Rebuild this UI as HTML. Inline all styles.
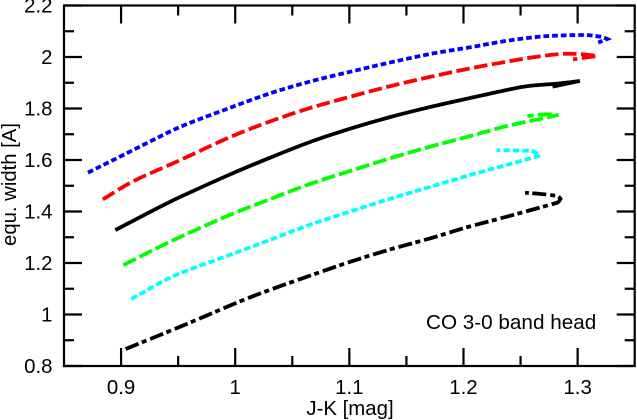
<!DOCTYPE html>
<html>
<head>
<meta charset="utf-8">
<title>CO 3-0 band head</title>
<style>
html,body{margin:0;padding:0;background:#fff;}
svg{display:block;}
text{font-family:"Liberation Sans",Arial,sans-serif;font-size:20.4px;fill:#000;}
</style>
</head>
<body>
<svg id="chart" width="637" height="420" viewBox="0 0 637 420" xmlns="http://www.w3.org/2000/svg">
<g id="series-layer"></g>
<g id="axis-layer"></g>
<text x="350" y="415" text-anchor="middle">J-K [mag]</text>
<text transform="translate(16,184.5) rotate(-90)" text-anchor="middle" style="font-size:20.3px">equ. width [A]</text>
<text x="426" y="329" style="font-size:20.7px">CO 3-0 band head</text>
</svg>
<script>
var xTickLabels = ['0.9', '1', '1.1', '1.2', '1.3'];
var yTickLabels = ['0.8', '1', '1.2', '1.4', '1.6', '1.8', '2', '2.2'];
var xMinorTicks = [0.95, 1.05, 1.15, 1.25];
var yMinorTicks = [0.9, 1.1, 1.3, 1.5, 1.7, 1.9, 2.1];

var blueJK = [0.871,0.899,0.925,0.952,0.995,1.030,1.065,1.101,1.136,1.171,1.206,1.238,1.267,1.288,1.308,1.320,1.326,1.318];
var blueEW = [1.551,1.613,1.671,1.729,1.802,1.858,1.904,1.943,1.979,2.012,2.038,2.063,2.079,2.084,2.085,2.079,2.070,2.056];
var redJK = [0.884,0.910,0.952,0.995,1.030,1.065,1.101,1.136,1.171,1.206,1.238,1.258,1.285,1.299,1.317,1.296];
var redEW = [1.447,1.516,1.600,1.688,1.749,1.801,1.846,1.887,1.923,1.956,1.982,1.997,2.012,2.012,2.004,1.991];
var blackJK = [0.895,0.931,0.952,0.995,1.030,1.065,1.101,1.136,1.171,1.206,1.238,1.256,1.278,1.302,1.278];
var blackEW = [1.328,1.411,1.457,1.543,1.608,1.669,1.722,1.767,1.806,1.841,1.872,1.887,1.895,1.907,1.885];
var greenJK = [0.902,0.945,0.995,1.030,1.065,1.101,1.136,1.171,1.206,1.238,1.267,1.283,1.270,1.256];
var greenEW = [1.192,1.287,1.386,1.447,1.506,1.558,1.607,1.652,1.693,1.732,1.759,1.775,1.777,1.771];
var cyanJK = [0.909,0.945,0.995,1.030,1.065,1.101,1.136,1.171,1.206,1.238,1.267,1.259,1.229];
var cyanEW = [1.060,1.147,1.231,1.289,1.348,1.400,1.450,1.496,1.542,1.581,1.617,1.636,1.638];
var dashDotJK = [0.904,0.952,1.007,1.030,1.065,1.101,1.136,1.171,1.204,1.238,1.282,1.285,1.282,1.270,1.254];
var dashDotEW = [0.866,0.953,1.056,1.095,1.150,1.205,1.253,1.296,1.340,1.380,1.434,1.449,1.461,1.467,1.473];

var NS = 'http://www.w3.org/2000/svg';
var LEFT = 64, RIGHT = 634.7, TOP = 5.5, BOTTOM = 366;
function xScale(v) { return LEFT + (v - 0.85) / 0.5 * (RIGHT - LEFT); }
function yScale(v) { return BOTTOM - (v - 0.8) / 1.4 * (BOTTOM - TOP); }

var axisLayer = document.getElementById('axis-layer');
var seriesLayer = document.getElementById('series-layer');

function smoothPath(xs, ys) {
  var pts = [];
  for (var i = 0; i < xs.length; i++) pts.push([xScale(xs[i]), yScale(ys[i])]);
  function isTip(i) {
    if (i === 0 || i === pts.length - 1) return false;
    return (pts[i][0] - pts[i - 1][0]) * (pts[i + 1][0] - pts[i][0]) < 0;
  }
  function tangent(i) {
    if (isTip(i)) return [0, 0];
    var a = pts[Math.max(i - 1, 0)], b = pts[Math.min(i + 1, pts.length - 1)];
    if (i > 0 && isTip(i - 1)) a = pts[i];
    if (i < pts.length - 1 && isTip(i + 1)) b = pts[i];
    var dx = b[0] - a[0], dy = b[1] - a[1], len = Math.sqrt(dx * dx + dy * dy) || 1;
    return [dx / len, dy / len];
  }
  var d = 'M' + pts[0][0].toFixed(2) + ' ' + pts[0][1].toFixed(2);
  for (var j = 0; j < pts.length - 1; j++) {
    var p = pts[j], q = pts[j + 1];
    var seg = Math.sqrt(Math.pow(q[0] - p[0], 2) + Math.pow(q[1] - p[1], 2)) / 3;
    var t0 = tangent(j), t1 = tangent(j + 1);
    d += 'C' + (p[0] + t0[0] * seg).toFixed(2) + ' ' + (p[1] + t0[1] * seg).toFixed(2) + ' ' +
         (q[0] - t1[0] * seg).toFixed(2) + ' ' + (q[1] - t1[1] * seg).toFixed(2) + ' ' +
         q[0].toFixed(2) + ' ' + q[1].toFixed(2);
  }
  return d;
}

function drawSeries(xs, ys, color, dash, name) {
  var p = document.createElementNS(NS, 'path');
  p.setAttribute('d', smoothPath(xs, ys));
  p.setAttribute('fill', 'none');
  p.setAttribute('stroke', color);
  p.setAttribute('stroke-width', '3.8');
  p.setAttribute('stroke-linejoin', 'miter');
  if (dash) p.setAttribute('stroke-dasharray', dash);
  
  
  seriesLayer.appendChild(p);
}

function drawLine(x1, y1, x2, y2, name) {
  var l = document.createElementNS(NS, 'line');
  l.setAttribute('x1', x1);
  l.setAttribute('y1', y1);
  l.setAttribute('x2', x2);
  l.setAttribute('y2', y2);
  l.setAttribute('stroke', '#000');
  l.setAttribute('stroke-width', '2.2');
  
  
  axisLayer.appendChild(l);
}

function drawLabel(x, y, str, anchor, name) {
  var t = document.createElementNS(NS, 'text');
  t.setAttribute('x', x);
  t.setAttribute('y', y);
  t.setAttribute('text-anchor', anchor);
  t.textContent = str;
  
  
  axisLayer.appendChild(t);
}

drawSeries(blueJK, blueEW, '#0000ff', '5.7 3', 'series-blue');
drawSeries(redJK, redEW, '#ff0000', '13.5 4.5', 'series-red');
drawSeries(blackJK, blackEW, '#000000', '', 'series-black-solid');
drawSeries(greenJK, greenEW, '#00ff00', '14 4', 'series-green');
drawSeries(cyanJK, cyanEW, '#00ffff', '6.5 3', 'series-cyan');
drawSeries(dashDotJK, dashDotEW, '#000000', '14 3.5 5 4', 'series-black-dash-dot');

var frame = document.createElementNS(NS, 'rect');
frame.setAttribute('x', LEFT);
frame.setAttribute('y', TOP);
frame.setAttribute('width', RIGHT - LEFT);
frame.setAttribute('height', BOTTOM - TOP);
frame.setAttribute('fill', 'none');
frame.setAttribute('stroke', '#000');
frame.setAttribute('stroke-width', '2.2');


axisLayer.appendChild(frame);

xTickLabels.forEach(function (s) {
  var x = xScale(parseFloat(s));
  drawLine(x, BOTTOM, x, BOTTOM - 18, 'x-major-tick');
  drawLine(x, TOP, x, TOP + 18, 'x-major-tick-top');
  drawLabel(x, 394, s, 'middle', 'x-tick-label');
});
xMinorTicks.forEach(function (v) {
  var x = xScale(v);
  drawLine(x, BOTTOM, x, BOTTOM - 10, 'x-minor-tick');
  drawLine(x, TOP, x, TOP + 10, 'x-minor-tick-top');
});
yTickLabels.forEach(function (s) {
  var y = yScale(parseFloat(s));
  drawLine(LEFT, y, LEFT + 18, y, 'y-major-tick');
  drawLine(RIGHT, y, RIGHT - 18, y, 'y-major-tick-right');
  drawLabel(52.5, y + 7, s, 'end', 'y-tick-label');
});
yMinorTicks.forEach(function (v) {
  var y = yScale(v);
  drawLine(LEFT, y, LEFT + 10, y, 'y-minor-tick');
  drawLine(RIGHT, y, RIGHT - 10, y, 'y-minor-tick-right');
});
</script>
</body>
</html>
